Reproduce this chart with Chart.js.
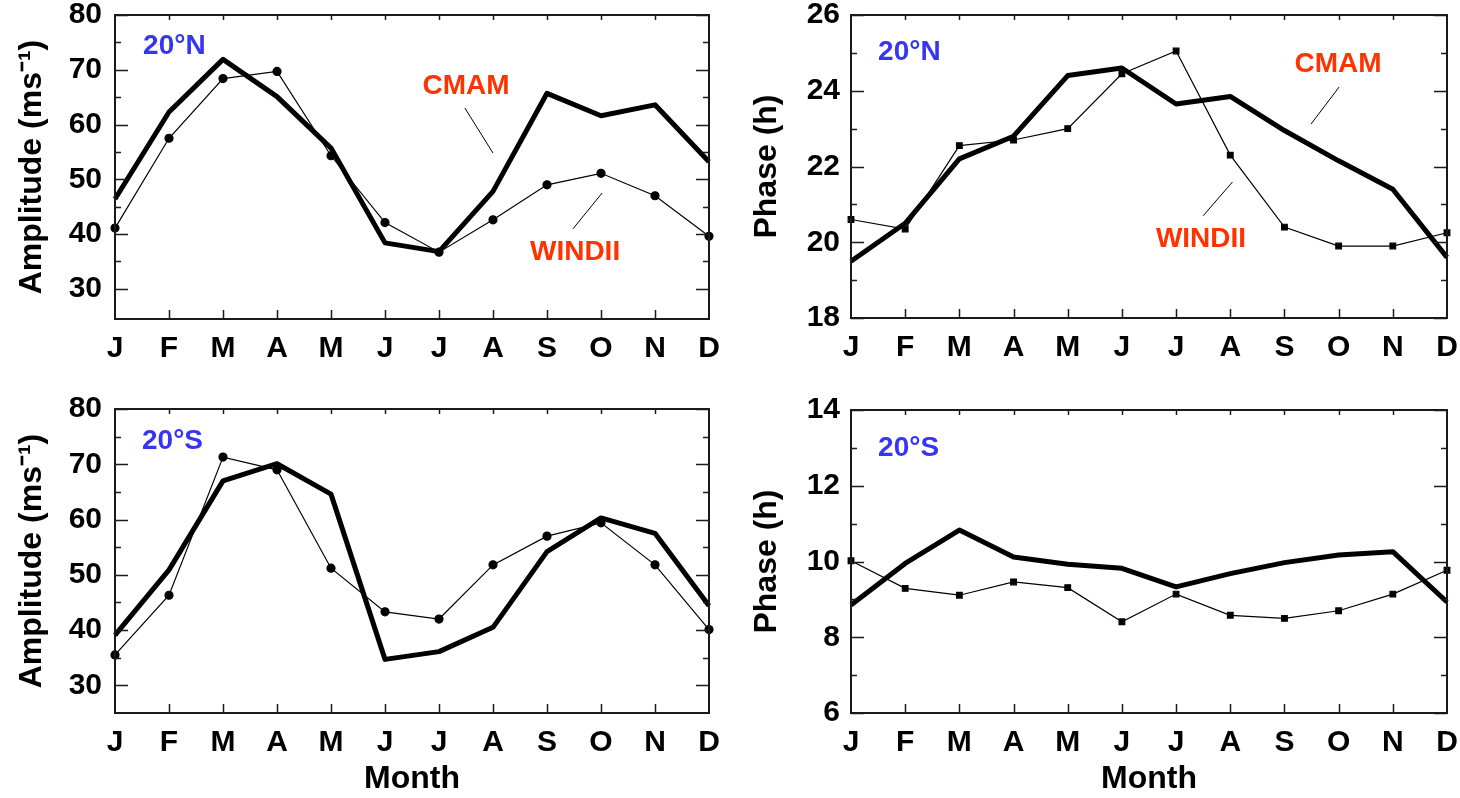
<!DOCTYPE html>
<html>
<head>
<meta charset="utf-8">
<script src="https://cdn.jsdelivr.net/npm/chart.js@4.4.1/dist/chart.umd.min.js"></script>
<style>
  html, body { margin: 0; padding: 0; background: #fff; }
  #wrap { position: relative; width: 1460px; height: 798px; overflow: hidden; }
  .panel { position: absolute; }
</style>
</head>
<body>
<div id="wrap">
  <div class="panel" style="left:0;top:0"><canvas id="ampN" width="730" height="390"></canvas></div>
  <div class="panel" style="left:730px;top:0"><canvas id="phaseN" width="730" height="390"></canvas></div>
  <div class="panel" style="left:0;top:390px"><canvas id="ampS" width="730" height="408"></canvas></div>
  <div class="panel" style="left:730px;top:390px"><canvas id="phaseS" width="730" height="408"></canvas></div>
</div>
<script>
const months = ['J', 'F', 'M', 'A', 'M', 'J', 'J', 'A', 'S', 'O', 'N', 'D'];

// 20N amplitude (m/s)
const ampN_cmam = [46.4, 62.3, 71.9, 65.1, 55.7, 38.4, 36.8, 47.8, 65.7, 61.6, 63.6, 53.2];
const ampN_windii = [41.1, 57.5, 68.4, 69.7, 54.3, 42.1, 36.7, 42.6, 49.0, 51.1, 47.0, 39.6];
// 20N phase (h)
const phaseN_cmam = [19.5, 20.5, 22.2, 22.8, 24.4, 24.6, 23.65, 23.85, 22.95, 22.15, 21.4, 19.6];
const phaseN_windii = [20.6, 20.35, 22.55, 22.7, 23.0, 24.45, 25.05, 22.3, 20.4, 19.9, 19.9, 20.25];
// 20S amplitude (m/s)
const ampS_cmam = [39.1, 50.9, 67.0, 70.1, 64.6, 34.7, 36.1, 40.5, 54.2, 60.3, 57.5, 44.4];
const ampS_windii = [35.5, 46.3, 71.3, 69.0, 51.2, 43.3, 42.0, 51.8, 57.0, 59.4, 51.8, 40.1];
// 20S phase (h)
const phaseS_cmam = [8.85, 9.95, 10.83, 10.12, 9.93, 9.82, 9.33, 9.68, 9.97, 10.17, 10.26, 8.93];
const phaseS_windii = [10.02, 9.29, 9.11, 9.46, 9.31, 8.41, 9.14, 8.58, 8.5, 8.7, 9.14, 9.77];

// tick labels
const ampTicks = [30, 40, 50, 60, 70, 80];
const ampMinor = [35, 45, 55, 65, 75];
const phaseNTicks = [18, 20, 22, 24, 26];
const phaseNMinor = [19, 21, 23, 25];
const phaseSTicks = [6, 8, 10, 12, 14];
const phaseSMinor = [7, 9, 11, 13];

const FONT = "'Liberation Sans', Arial, Helvetica, sans-serif";
const BLUE = '#3636f2';
const RED = '#ff3300';

// frame with inward ticks, like the old IDL plots
const framePlugin = {
  id: 'frame',
  afterDraw(chart) {
    const { ctx, chartArea: a, scales: { x, y } } = chart;
    const o = chart.options.plugins.frame;
    ctx.save();
    ctx.strokeStyle = '#1a1a1a';
    ctx.lineWidth = 2;
    ctx.strokeRect(a.left, a.top, a.right - a.left, a.bottom - a.top);
    ctx.lineWidth = 1.5;
    ctx.beginPath();
    o.major.forEach(v => {
      const p = Math.round(y.getPixelForValue(v)) + 0.5;
      ctx.moveTo(a.left, p); ctx.lineTo(a.left + 13, p);
      ctx.moveTo(a.right, p); ctx.lineTo(a.right - 13, p);
    });
    o.minor.forEach(v => {
      const p = Math.round(y.getPixelForValue(v)) + 0.5;
      ctx.moveTo(a.left, p); ctx.lineTo(a.left + 6, p);
      ctx.moveTo(a.right, p); ctx.lineTo(a.right - 6, p);
    });
    for (let i = 1; i < months.length - 1; i++) {
      const p = Math.round(x.getPixelForValue(i)) + 0.5;
      ctx.moveTo(p, a.bottom); ctx.lineTo(p, a.bottom - 9);
      ctx.moveTo(p, a.top); ctx.lineTo(p, a.top + 5);
    }
    ctx.stroke();
    ctx.restore();
  }
};

// panel tags, series names and leader lines, placed in data units
const notesPlugin = {
  id: 'notes',
  afterDraw(chart) {
    const { ctx, scales: { x, y } } = chart;
    const o = chart.options.plugins.notes;
    ctx.save();
    ctx.font = `bold 28px ${FONT}`;
    ctx.textBaseline = 'middle';
    (o.texts || []).forEach(t => {
      ctx.fillStyle = t.color;
      ctx.textAlign = t.align || 'center';
      ctx.fillText(t.text, x.getPixelForValue(t.at[0]), y.getPixelForValue(t.at[1]));
    });
    ctx.strokeStyle = '#000';
    ctx.lineWidth = 1;
    (o.leaders || []).forEach(l => {
      ctx.beginPath();
      ctx.moveTo(x.getPixelForValue(l[0][0]), y.getPixelForValue(l[0][1]));
      ctx.lineTo(x.getPixelForValue(l[1][0]), y.getPixelForValue(l[1][1]));
      ctx.stroke();
    });
    ctx.restore();
  }
};

function makePanel(id, p) {
  return new Chart(document.getElementById(id), {
    type: 'line',
    data: {
      labels: months,
      datasets: [
        {
          label: 'WINDII',
          data: p.windii,
          borderColor: '#000',
          borderWidth: 1.2,
          pointStyle: p.marker,
          pointRadius: 4,
          pointBackgroundColor: '#000',
          pointBorderColor: '#000',
          tension: 0
        },
        {
          label: 'CMAM',
          data: p.cmam,
          borderColor: '#000',
          borderWidth: 5,
          borderJoinStyle: 'round',
          pointRadius: 0,
          tension: 0
        }
      ]
    },
    options: {
      responsive: false,
      animation: false,
      layout: { padding: { top: p.padTop, right: p.padRight, left: 0, bottom: 0 } },
      plugins: {
        legend: { display: false },
        tooltip: { enabled: false },
        frame: { major: p.ticks, minor: p.minor },
        notes: { texts: p.texts, leaders: p.leaders }
      },
      scales: {
        x: {
          grid: { display: false, drawTicks: false },
          border: { display: false },
          ticks: { color: '#000', font: { family: FONT, size: 30, weight: 'bold' }, padding: 12, maxRotation: 0, autoSkip: false },
          title: {
            display: !!p.xTitle,
            text: p.xTitle || '',
            color: '#000',
            font: { family: FONT, size: 32, weight: 'bold' },
            padding: { top: 0, bottom: 0 }
          },
          afterFit(s) {
            s.height = p.xHeight;
            s.paddingLeft = 0; s.paddingRight = 0;
          }
        },
        y: {
          min: p.min,
          max: p.max,
          grid: { display: false, drawTicks: false },
          border: { display: false },
          ticks: { color: '#000', font: { family: FONT, size: 30, weight: 'bold' }, padding: p.yTickPad },
          afterBuildTicks(s) { s.ticks = p.ticks.map(v => ({ value: v })); },
          title: {
            display: true,
            text: p.yTitle,
            color: '#000',
            font: { family: FONT, size: 32, weight: 'bold' },
            padding: { top: p.yTitlePad, bottom: 0 }
          },
          afterFit(s) {
            s.width = p.yWidth;
            s.paddingTop = 0; s.paddingBottom = 0;
          }
        }
      }
    },
    plugins: [framePlugin, notesPlugin]
  });
}

makePanel('ampN', {
  cmam: ampN_cmam, windii: ampN_windii, marker: 'circle',
  min: 24.5, max: 80, ticks: ampTicks, minor: ampMinor,
  yTitle: 'Amplitude (ms\u207B\u00B9)', yTitlePad: 13, yTickPad: 13,
  padTop: 15, padRight: 21, yWidth: 115, xHeight: 71,
  texts: [
    { text: '20\u00B0N', at: [0.52, 74.2], color: BLUE, align: 'left' },
    { text: 'CMAM', at: [6.5, 66.9], color: RED },
    { text: 'WINDII', at: [8.52, 36.6], color: RED }
  ],
  leaders: [[[6.48, 63.0], [7.0, 54.8]], [[9.02, 47.5], [8.48, 40.95]]]
});

makePanel('phaseN', {
  cmam: phaseN_cmam, windii: phaseN_windii, marker: 'rect',
  min: 18, max: 26, ticks: phaseNTicks, minor: phaseNMinor,
  yTitle: 'Phase (h)', yTitlePad: 18, yTickPad: 11,
  padTop: 15, padRight: 13, yWidth: 121, xHeight: 72,
  texts: [
    { text: '20\u00B0N', at: [0.5, 25.02], color: BLUE, align: 'left' },
    { text: 'CMAM', at: [8.99, 24.71], color: RED },
    { text: 'WINDII', at: [6.46, 20.09], color: RED }
  ],
  leaders: [[[9.01, 24.1], [8.49, 23.12]], [[7.04, 21.59], [6.5, 20.7]]]
});

makePanel('ampS', {
  cmam: ampS_cmam, windii: ampS_windii, marker: 'circle',
  min: 25, max: 80, ticks: ampTicks, minor: ampMinor,
  yTitle: 'Amplitude (ms\u207B\u00B9)', yTitlePad: 13, yTickPad: 13,
  padTop: 19, padRight: 21, yWidth: 115, xHeight: 85, xTitle: 'Month',
  texts: [
    { text: '20\u00B0S', at: [0.5, 74.2], color: BLUE, align: 'left' }
  ],
  leaders: []
});

makePanel('phaseS', {
  cmam: phaseS_cmam, windii: phaseS_windii, marker: 'rect',
  min: 6, max: 14, ticks: phaseSTicks, minor: phaseSMinor,
  yTitle: 'Phase (h)', yTitlePad: 18, yTickPad: 11,
  padTop: 20, padRight: 13, yWidth: 121, xHeight: 85, xTitle: 'Month',
  texts: [
    { text: '20\u00B0S', at: [0.5, 13.0], color: BLUE, align: 'left' }
  ],
  leaders: []
});
</script>
</body>
</html>
